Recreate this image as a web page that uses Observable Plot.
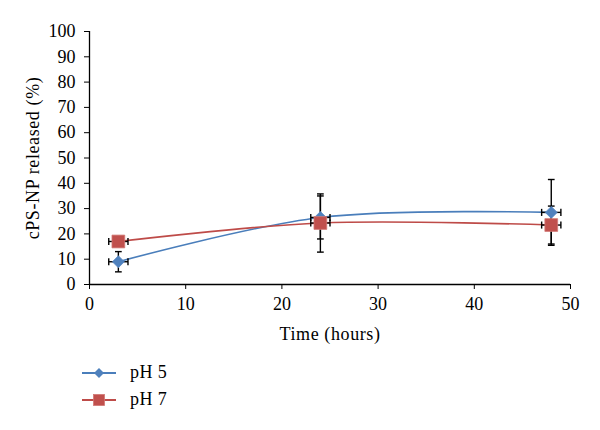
<!DOCTYPE html>
<html>
<head>
<meta charset="utf-8">
<script src="https://cdn.jsdelivr.net/npm/d3@7"></script>
<script src="https://cdn.jsdelivr.net/npm/@observablehq/plot@0.6"></script>
<style>
  body { margin: 0; background: #fff; font-family: "Liberation Serif", serif; }
  #wrap { position: relative; width: 600px; height: 430px; }
  #chart svg text, #chart svg g { font-size: 18px !important; font-family: "Liberation Serif", serif !important; }
  #chart svg g[aria-label="x-axis label"] text, #chart svg g[aria-label="y-axis label"] text { letter-spacing: 0.6px; }
  #legend { position: absolute; left: 82px; top: 359px; font-size: 18px; letter-spacing: 0.4px; color: #000; }
  .row { height: 27px; display: flex; align-items: center; }
  .row svg { margin-right: 14px; }
</style>
</head>
<body>
<div id="wrap">
  <div id="chart"></div>
  <div id="legend"></div>
</div>
<script>
const hours = [3, 24, 48];
const seriesNames = ["pH 5", "pH 7"];
const ph5 = [9, 26.5, 28.5];
const ph5Err = [4, 8.5, 13];
const ph7 = [17, 24.3, 23.5];
const ph7Err = [1.5, 11.5, 7.5];
const timeErr = [1, 1, 1];
const xTicks = [0, 10, 20, 30, 40, 50];
const yTicks = [0, 10, 20, 30, 40, 50, 60, 70, 80, 90, 100];

const lineColors = {"pH 5": "#4a7ebb", "pH 7": "#be4b48"};
const markColors = {"pH 5": "#4f81bd", "pH 7": "#c0504d"};

const rows = [];
hours.forEach((h, i) => {
  rows.push({series: "pH 5", x: h, y: ph5[i], err: ph5Err[i], xerr: timeErr[i]});
  rows.push({series: "pH 7", x: h, y: ph7[i], err: ph7Err[i], xerr: timeErr[i]});
});
const r5 = rows.filter(d => d.series === "pH 5");
const r7 = rows.filter(d => d.series === "pH 7");

const capW = 0.35, capH = 1.4;
const errStyle = {stroke: "#000", strokeWidth: 1.4};

const chart = Plot.plot({
  width: 600,
  height: 350,
  marginLeft: 89,
  marginRight: 30,
  marginTop: 31,
  marginBottom: 66,
  style: {fontFamily: "'Liberation Serif', serif", fontSize: "18px", color: "#000", background: "#fff"},
  x: {domain: [0, 50]},
  y: {domain: [0, 100]},
  marks: [
    Plot.axisY({ticks: yTicks, tickSize: 5, tickPadding: 9, label: "cPS-NP released (%)", labelAnchor: "center", labelArrow: "none", labelOffset: 63}),
    Plot.axisX({ticks: xTicks, tickSize: 5, tickPadding: 8, label: "Time (hours)", labelAnchor: "center", labelArrow: "none", labelOffset: 55}),
    Plot.ruleX([0], {stroke: "#000", strokeWidth: 1.3}),
    Plot.ruleY([0], {stroke: "#000", strokeWidth: 1.3}),
    Plot.line(r5, {x: "x", y: "y", curve: "catmull-rom", stroke: lineColors["pH 5"], strokeWidth: 1.6}),
    Plot.line(r7, {x: "x", y: "y", curve: "catmull-rom", stroke: lineColors["pH 7"], strokeWidth: 1.6}),
    // vertical error bars
    Plot.link(rows, {x1: "x", x2: "x", y1: d => d.y - d.err, y2: d => d.y + d.err, ...errStyle}),
    Plot.link(rows, {x1: d => d.x - capW, x2: d => d.x + capW, y1: d => d.y + d.err, y2: d => d.y + d.err, ...errStyle}),
    Plot.link(rows, {x1: d => d.x - capW, x2: d => d.x + capW, y1: d => d.y - d.err, y2: d => d.y - d.err, ...errStyle}),
    // horizontal error bars
    Plot.link(rows, {x1: d => d.x - d.xerr, x2: d => d.x + d.xerr, y1: "y", y2: "y", ...errStyle}),
    Plot.link(rows, {x1: d => d.x - d.xerr, x2: d => d.x - d.xerr, y1: d => d.y - capH, y2: d => d.y + capH, ...errStyle}),
    Plot.link(rows, {x1: d => d.x + d.xerr, x2: d => d.x + d.xerr, y1: d => d.y - capH, y2: d => d.y + capH, ...errStyle}),
    // markers
    Plot.dot(r5, {x: "x", y: "y", symbol: "diamond2", r: 5.4, fill: markColors["pH 5"], stroke: "#5a8ac6", strokeWidth: 0.8}),
    Plot.dot(r7, {x: "x", y: "y", symbol: "square", r: 7.2, fill: markColors["pH 7"], stroke: "#d27774", strokeWidth: 0.8})
  ]
});
document.getElementById("chart").appendChild(chart);

// legend
const legend = d3.select("#legend");
seriesNames.forEach(name => {
  const row = legend.append("div").attr("class", "row");
  const s = row.append("svg").attr("width", 34).attr("height", 16);
  s.append("line").attr("x1", 0).attr("x2", 34).attr("y1", 8).attr("y2", 8)
    .attr("stroke", lineColors[name]).attr("stroke-width", 1.8);
  if (name === "pH 5") {
    s.append("path").attr("d", "M17,3L22,8L17,13L12,8Z").attr("fill", markColors[name]);
  } else {
    s.append("rect").attr("x", 11.5).attr("y", 2.5).attr("width", 11).attr("height", 11)
      .attr("fill", markColors[name]).attr("stroke", "#d27774").attr("stroke-width", 0.8);
  }
  row.append("span").text(name);
});
</script>
</body>
</html>
